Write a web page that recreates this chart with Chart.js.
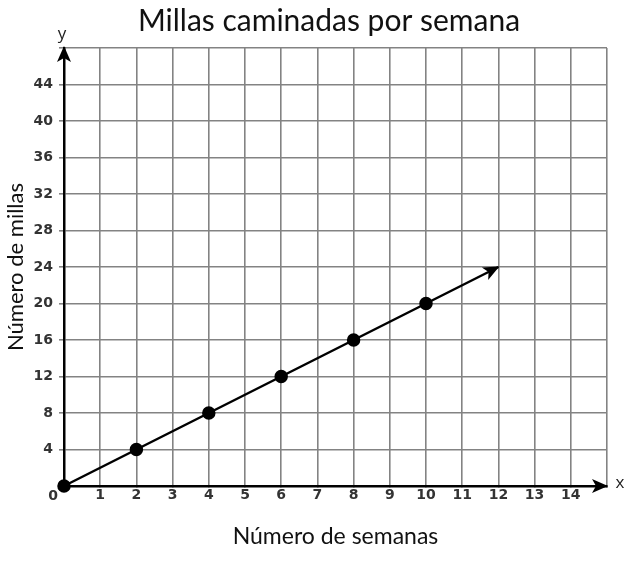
<!DOCTYPE html>
<html>
<head>
<meta charset="utf-8">
<script src="https://cdn.jsdelivr.net/npm/chart.js@4.4.0/dist/chart.umd.min.js"></script>
<style>
  html, body { margin: 0; padding: 0; background: #fff; }
  #contenedor { width: 634px; height: 562px; }
</style>
</head>
<body>
<div id="contenedor"><canvas id="grafica" width="634" height="562"></canvas></div>
<script>
// Datos
const semanas = [0, 2, 4, 6, 8, 10, 12];
const millas = [0, 4, 8, 12, 16, 20, 24];
const conPunto = [true, true, true, true, true, true, false]; // el ultimo es la punta de la flecha
const ticksX = [1, 2, 3, 4, 5, 6, 7, 8, 9, 10, 11, 12, 13, 14];
const ticksY = [4, 8, 12, 16, 20, 24, 28, 32, 36, 40, 44];
const tituloGrafica = 'Millas caminadas por semana';
const tituloX = 'Número de semanas';
const tituloY = 'Número de millas';

const fuenteTicks = { family: 'DejaVu Sans', size: 14, weight: 'bold' };

// Flechas de los ejes, titulo y etiqueta "0"
const extras = {
  id: 'extras',
  afterDatasetsDraw(chart) {
    const ctx = chart.ctx;
    const sx = chart.scales.x, sy = chart.scales.y;
    const x0 = sx.getPixelForValue(0), y0 = sy.getPixelForValue(0);
    const arriba = chart.chartArea.top, derecha = chart.chartArea.right;
    ctx.save();
    ctx.fillStyle = '#000';

    // flecha eje y
    ctx.beginPath();
    ctx.moveTo(x0, arriba - 2);
    ctx.lineTo(x0 - 7, arriba + 14);
    ctx.lineTo(x0, arriba + 10);
    ctx.lineTo(x0 + 7, arriba + 14);
    ctx.closePath();
    ctx.fill();

    // flecha eje x
    ctx.beginPath();
    ctx.moveTo(derecha + 1, y0);
    ctx.lineTo(derecha - 15, y0 - 7);
    ctx.lineTo(derecha - 11, y0);
    ctx.lineTo(derecha - 15, y0 + 7);
    ctx.closePath();
    ctx.fill();

    // flecha al final de la recta
    const n = semanas.length - 1;
    const px = sx.getPixelForValue(semanas[n]), py = sy.getPixelForValue(millas[n]);
    const qx = sx.getPixelForValue(semanas[n - 1]), qy = sy.getPixelForValue(millas[n - 1]);
    const ang = Math.atan2(py - qy, px - qx);
    ctx.translate(px, py);
    ctx.rotate(ang);
    ctx.beginPath();
    ctx.moveTo(1, 0);
    ctx.lineTo(-15, -7);
    ctx.lineTo(-11, 0);
    ctx.lineTo(-15, 7);
    ctx.closePath();
    ctx.fill();
    ctx.setTransform(1, 0, 0, 1, 0, 0);

    // letras de los ejes y "0"
    ctx.fillStyle = '#222';
    ctx.font = '17px "Open Sans"';
    ctx.textAlign = 'center';
    ctx.textBaseline = 'middle';
    ctx.fillText('y', x0 - 2, arriba - 14);
    ctx.fillText('x', derecha + 13, y0 - 3);
    ctx.font = 'bold 14px "DejaVu Sans"';
    ctx.fillStyle = '#333';
    ctx.fillText('0', x0 - 11, y0 + 10);

    // titulo
    ctx.fillStyle = '#111';
    ctx.font = '30px Lato';
    ctx.textBaseline = 'alphabetic';
    ctx.fillText(tituloGrafica, 329, 31);
    ctx.restore();
  }
};

const ctx = document.getElementById('grafica').getContext('2d');
const grafica = new Chart(ctx, {
  type: 'scatter',
  data: {
    datasets: [{
      data: semanas.map((s, i) => ({ x: s, y: millas[i] })),
      showLine: true,
      borderColor: '#000',
      borderWidth: 2.5,
      backgroundColor: '#000',
      pointRadius: conPunto.map(v => v ? 5.5 : 0),
      pointHoverRadius: conPunto.map(v => v ? 5.5 : 0),
      clip: false
    }]
  },
  options: {
    responsive: false,
    animation: false,
    layout: { padding: { top: 48, right: 27, left: 0, bottom: 0 } },
    plugins: {
      legend: { display: false },
      title: { display: false },
      tooltip: { enabled: false }
    },
    scales: {
      x: {
        type: 'linear',
        min: 0,
        max: 15,
        afterFit: s => { s.height = 76; },
        ticks: {
          stepSize: 1,
          autoSkip: false,
          maxRotation: 0,
          padding: 1,
          color: '#333',
          font: fuenteTicks,
          callback: v => ticksX.includes(v) ? String(v) : ''
        },
        grid: { color: '#838383', lineWidth: 1.6, tickLength: 0 },
        border: { display: true, color: '#000', width: 2.5 },
        title: {
          display: true,
          text: tituloX,
          color: '#111',
          font: { family: 'Lato', size: 23 },
          padding: { top: 0, bottom: 12 }
        }
      },
      y: {
        min: 0,
        max: 48,
        afterFit: s => { s.width = 64; },
        ticks: {
          stepSize: 4,
          autoSkip: false,
          padding: 6,
          color: '#333',
          font: fuenteTicks,
          callback: v => ticksY.includes(v) ? String(v) : ''
        },
        grid: { color: '#838383', lineWidth: 1.6, tickLength: 5 },
        border: { display: true, color: '#000', width: 2.5 },
        title: {
          display: true,
          text: tituloY,
          color: '#111',
          font: { family: 'Lato', size: 22 },
          padding: { top: 3, bottom: 0 }
        }
      }
    }
  },
  plugins: [extras]
});
</script>
</body>
</html>
